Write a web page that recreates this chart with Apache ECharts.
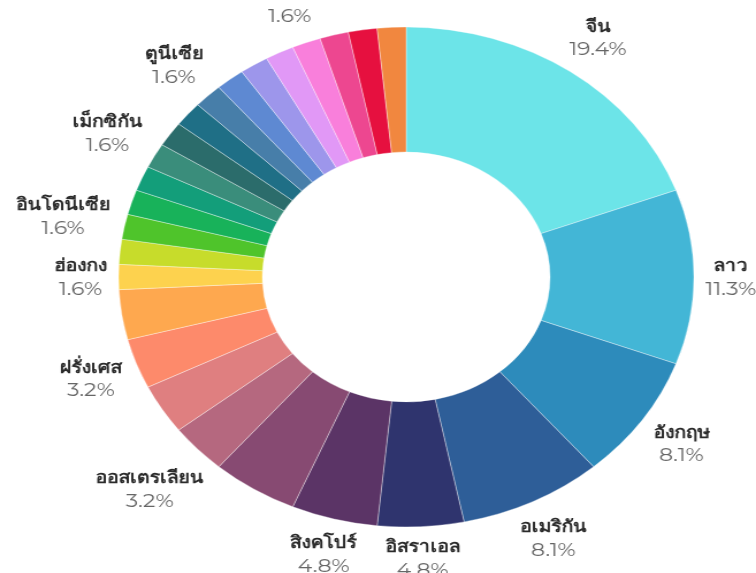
<!DOCTYPE html>
<html>
<head>
<meta charset="utf-8">
<script src="https://cdn.jsdelivr.net/npm/echarts@6/dist/echarts.min.js"></script>
<style>
html,body{margin:0;padding:0;background:#fff;overflow:hidden;}
#wrap{width:756px;height:573px;overflow:hidden;position:relative;}
#chart{width:657px;height:573px;transform:scaleX(1.1507);transform-origin:0 0;}
</style>
</head>
<body>
<div id="wrap"><div id="chart"></div></div>
<script>
// Data
const names = ["จีน","ลาว","อังกฤษ","อเมริกัน","อิสราเอล","สิงคโปร์","ญี่ปุ่น","ออสเตรเลียน","เกาหลี","ฝรั่งเศส","เยอรมัน","ฮ่องกง","ไต้หวัน","อินโดนีเซีย","เวียดนาม","อินเดีย","เม็กซิกัน","มาเลเซีย","แคนาดา","ตูนีเซีย","รัสเซีย","อิตาลี","สวิส","ฟิลิปปินส์","เนเธอร์แลนด์","บราซิล","สเปน"];
const values = [12,7,5,5,3,3,3,2,2,2,2,1,1,1,1,1,1,1,1,1,1,1,1,1,1,1,1];
const labeledNames = ["จีน","ลาว","อังกฤษ","อเมริกัน","อิสราเอล","สิงคโปร์","ออสเตรเลียน","ฝรั่งเศส","ฮ่องกง","อินโดนีเซีย","เม็กซิกัน","ตูนีเซีย","ฟิลิปปินส์"];
const colors = ["#6ce4e8","#43b6d6","#2d8bbb","#2e5e98","#2f346e","#5b3466","#874a72","#b5687f","#df7f80","#fd8a6b","#fea84f","#fdd24e","#c7dc2b","#4fc42b","#18b25a","#139e7a","#3a8d7b","#2b6c6b","#1f6f86","#477ea9","#5e89d2","#9d96eb","#e198f6","#f97fdb","#ed4790","#e6103f","#f1873f"];

const total = values.reduce((a,b)=>a+b,0);
const data = names.map((n,i)=>({name:n,value:values[i],label:{show:labeledNames.indexOf(n)>=0}}));

const CX = 353, CY = 277, R0 = 125, R1 = 250, GAP = 10;

const chart = echarts.init(document.getElementById('chart'));
chart.setOption({
  animation:false,
  color: colors,
  series:[
    {
      type:'pie',
      center:[CX,CY],
      radius:[R0,R1],
      startAngle:90,
      clockwise:true,
      avoidLabelOverlap:false,
      labelLine:{show:false},
      label:{
        position:'inside',
        formatter:function(p){return '{n|'+p.name+'}\n{p|'+(p.value/total*100).toFixed(1)+'%}';},
        rich:{
          n:{fontFamily:'Noto Sans, sans-serif',fontSize:17,fontWeight:'bold',color:'#2b2b2b',lineHeight:23,align:'center'},
          p:{fontFamily:'Montserrat, Noto Sans, sans-serif',fontSize:19,color:'#666',lineHeight:23,align:'center'}
        }
      },
      // push each label out along its slice's direction until its box clears the ring
      labelLayout:function(params){
        const r = params.labelRect;
        const lx = r.x + r.width/2, ly = r.y + r.height/2;
        let ux = lx - CX, uy = ly - CY;
        const len = Math.sqrt(ux*ux+uy*uy) || 1;
        ux /= len; uy /= len;
        const ext = (r.width/2)*Math.abs(ux) + (r.height/2)*Math.abs(uy);
        const d = R1 + GAP + ext;
        return {x: CX + ux*d, y: CY + uy*d};
      },
      itemStyle:{borderColor:'rgba(255,255,255,0.45)',borderWidth:0.8},
      emphasis:{disabled:true},
      data:data
    }
  ]
});
</script>
</body>
</html>
